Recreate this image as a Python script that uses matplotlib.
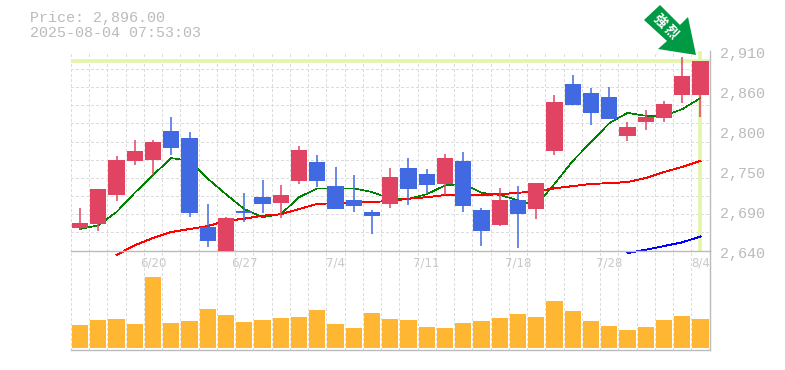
#!/usr/bin/env python3
"""Candlestick chart with moving averages and volume bars."""

import matplotlib
matplotlib.use('Agg')
import matplotlib.pyplot as plt
from matplotlib.patches import Polygon
from matplotlib.transforms import Affine2D, ScaledTranslation

# ── Data ─────────────────────────────────────────────────────────────────────

opens = [2670, 2676, 2715, 2761, 2762, 2801, 2792, 2672, 2639, 2693, 2712, 2704,
         2734, 2760, 2727, 2708, 2692, 2703, 2751, 2743, 2730, 2761, 2695, 2674,
         2708, 2696, 2774, 2865, 2853, 2847, 2795, 2814, 2819, 2850, 2850]
closes = [2677, 2723, 2762, 2774, 2787, 2778, 2691, 2653, 2684, 2691, 2703, 2715,
          2776, 2734, 2696, 2700, 2687, 2739, 2723, 2728, 2765, 2700, 2666, 2708,
          2689, 2731, 2841, 2836, 2826, 2818, 2807, 2820, 2838, 2876, 2896]
highs = [2697, 2723, 2768, 2789, 2789, 2820, 2800, 2703, 2685, 2718, 2735, 2728,
         2781, 2769, 2753, 2742, 2695, 2751, 2765, 2750, 2770, 2773, 2697, 2724,
         2727, 2731, 2850, 2877, 2859, 2861, 2814, 2830, 2842, 2901, 2896]
lows = [2668, 2666, 2707, 2755, 2742, 2769, 2685, 2645, 2639, 2679, 2691, 2684,
        2730, 2726, 2696, 2692, 2662, 2697, 2701, 2716, 2715, 2692, 2646, 2673,
        2643, 2683, 2769, 2836, 2809, 2818, 2788, 2803, 2814, 2839, 2820]
volumes = [230, 280, 290, 240, 710, 250, 270, 390, 330, 260, 280, 300,
           310, 380, 240, 200, 350, 290, 280, 210, 200, 250, 270, 300,
           340, 310, 470, 370, 270, 220, 180, 210, 280, 320, 290]

ma_short = [2669, 2674, 2692, 2718, 2742, 2765, 2761, 2737, 2716, 2696, 2685, 2689,
            2712, 2724, 2724, 2724, 2719, 2710, 2710, 2716, 2728, 2730, 2718, 2715,
            2708, 2701, 2730, 2761, 2786.5, 2812, 2826, 2822, 2822, 2831, 2846]
ma_mid = [2634, 2647, 2657, 2665, 2669, 2673, 2680, 2683, 2687, 2689, 2696, 2703,
          2704, 2705.5, 2705.5, 2707, 2710, 2712, 2715, 2715, 2715, 2716, 2718, 2720,
          2724, 2727, 2730, 2731, 2732.5, 2738, 2746, 2753, 2761]
ma_long = [2636.6, 2641, 2646, 2651, 2659]

price_ticks = [2640, 2694, 2748, 2802, 2856, 2910]
price_labels = ['2,640', '2,690', '2,750', '2,800', '2,860', '2,910']
date_ticks = [4, 9, 14, 19, 24, 29, 34]
date_labels = ['6/20', '6/27', '7/4', '7/11', '7/18', '7/28', '8/4']
last_price = 2896

RED = '#e04462'
BLUE = '#4169e1'
ORANGE = '#ffb733'
GREY = '#bbbbbb'
GRID = '#dcdcdc'
HILITE = '#e2f5a8'
ARROW = '#009944'
W, H = 785, 370
DASH = (0, (2.2, 2.2))

plt.rcParams['font.family'] = ['Liberation Mono', 'DejaVu Sans']


def px_axes(fig, left, top, right, bottom):
    """Axes placed by pixel edges of the 785x370 figure."""
    return fig.add_axes([left / W, 1 - bottom / H, (right - left) / W, (bottom - top) / H])


fig = plt.figure(figsize=(W / 100, H / 100), dpi=100)
ax = px_axes(fig, 70.9, 50.7, 709.6, 250.5)
vol = px_axes(fig, 70.9, 250.5, 709.6, 350)
ax.set_zorder(2)
ax.patch.set_visible(False)

xs = range(len(opens))
edges = [i - 0.5 for i in range(len(opens) + 1)]

# ── Price panel ──────────────────────────────────────────────────────────────

ax.set_xlim(-0.5, 34.5)
ax.set_ylim(2640, 2910)
ax.set_xticks(edges)
ax.set_xticklabels([])
ax.set_yticks([2640 + k * 270 / 11 for k in range(12)], minor=True)
ax.grid(True, which='minor', axis='y', color=GRID, lw=0.8, ls=DASH, zorder=0, antialiased=False)
ax.grid(True, which='major', axis='x', color=GRID, lw=0.8, ls=DASH, zorder=0, antialiased=False)
ax.set_axisbelow(True)

ax.axhline(last_price, color=HILITE, lw=2.6, zorder=1)
ax.axvline(xs[-1], color=HILITE, lw=2.6, zorder=1)

ax.plot(xs, ma_short, color='#008000', lw=0.4, zorder=2, clip_on=False, antialiased=False)
ax.plot(xs[2:], ma_mid, color='#ff0000', lw=0.65, zorder=2, clip_on=False, antialiased=False)
ax.plot(xs[30:], ma_long, color='#0000ff', lw=0.65, zorder=2, clip_on=False, antialiased=False)

for i in xs:
    col = RED if closes[i] >= opens[i] else BLUE
    ax.vlines(i, lows[i], highs[i], color=col, lw=1.1, zorder=3)
    ax.bar(i, closes[i] - opens[i], bottom=opens[i], width=0.88, color=col, zorder=4)

ax.yaxis.tick_right()
ax.set_yticks(price_ticks)
ax.set_yticklabels(price_labels, fontsize=10.8, color=GREY)
ax.tick_params(axis='y', which='both', length=0, pad=7.5)
ax.tick_params(axis='x', length=0)
for lbl in ax.get_yticklabels():
    lbl.set_transform(lbl.get_transform() + ScaledTranslation(0, -2 / 100, fig.dpi_scale_trans))

for side in ['top', 'left']:
    ax.spines[side].set_visible(False)
for side in ['right', 'bottom']:
    ax.spines[side].set_color(GREY)
    ax.spines[side].set_linewidth(1.0)

# ── Volume panel ─────────────────────────────────────────────────────────────

vol.set_xlim(-0.5, 34.5)
vol.set_ylim(-20, 975)
vol.bar(xs, volumes, width=0.88, color=ORANGE, zorder=3)
vol.set_xticks(edges)
vol.set_xticklabels([])
vol.grid(True, axis='x', color=GRID, lw=0.8, ls=DASH, zorder=0, antialiased=False)
vol.set_axisbelow(True)
vol.set_yticks([])
vol.tick_params(axis='x', length=0)
for side in ['top', 'left']:
    vol.spines[side].set_visible(False)
for side in ['right', 'bottom']:
    vol.spines[side].set_color(GREY)
    vol.spines[side].set_linewidth(1.0)

for pos, txt in zip(date_ticks, date_labels):
    vol.annotate(txt, (pos, 1), xycoords=vol.get_xaxis_transform(), xytext=(0, -4.5),
                 textcoords='offset points', ha='center', va='top', color='#c8c8c8',
                 fontsize=8.5, family='DejaVu Sans')

# ── Header text ──────────────────────────────────────────────────────────────

fig.text(30 / W, 1 - 18 / H, 'Price: 2,896.00', color=GREY, fontsize=10.8, va='center')
fig.text(30 / W, 1 - 33 / H, '2025-08-04 07:53:03', color=GREY, fontsize=10.8, va='center')

# ── Arrow badge ──────────────────────────────────────────────────────────────

to_fig = Affine2D().scale(1 / W, -1 / H).translate(0, 1) + fig.transFigure
arrow_pts = [(644, 20), (660, 5), (680, 25), (688, 17), (696, 55), (658, 49), (667, 41)]
fig.add_artist(Polygon(arrow_pts, closed=True, facecolor=ARROW, edgecolor='none',
                       transform=to_fig))
fig.text(660 / W, 1 - 21 / H, '強', color='white', fontsize=9.5, rotation=-45, ha='center',
         va='center', family=['Noto Sans CJK JP', 'DejaVu Sans'], fontweight='bold')
fig.text(671 / W, 1 - 32 / H, '烈', color='white', fontsize=9.5, rotation=-45, ha='center',
         va='center', family=['Noto Sans CJK JP', 'DejaVu Sans'], fontweight='bold')

fig.savefig('out.png', dpi=100)
